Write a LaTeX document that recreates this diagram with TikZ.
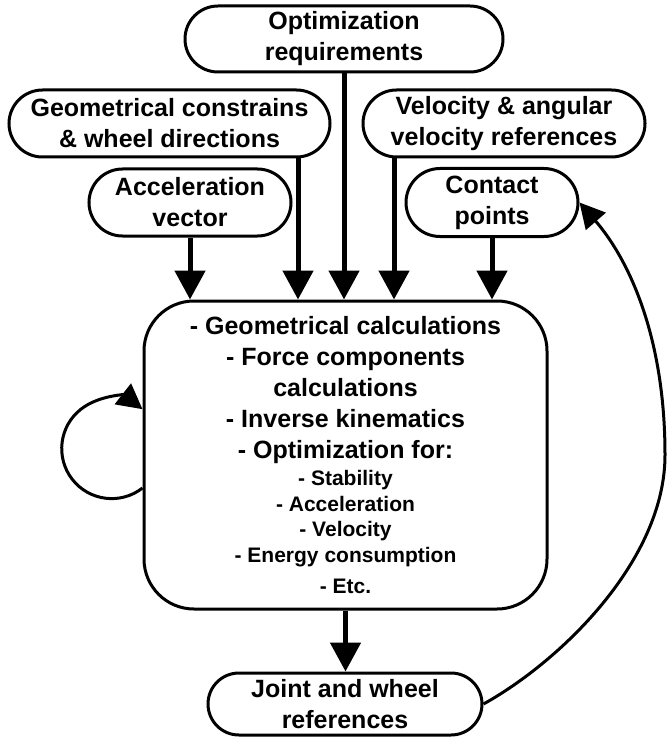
\documentclass[tikz,border=0pt]{standalone}
\usepackage{fontspec}
\setmainfont{Liberation Sans}
\usetikzlibrary{arrows.meta}
\newcommand\bigtxt{\fontsize{25}{31}\selectfont\bfseries}
\newcommand\smalltxt{\fontsize{21}{25.5}\selectfont\bfseries}
\newcommand\fixsp{\spaceskip=\fontdimen2\font\relax\xspaceskip=\fontdimen2\font\relax}
\begin{document}
\begin{tikzpicture}[x=1pt,y=1pt,
  pill/.style={draw, line width=3pt, inner sep=0pt, align=center, font=\bigtxt, rounded corners=#1},
  mainbox/.style={draw, line width=3pt, rounded corners=50pt, minimum width=403pt, minimum height=308pt, inner sep=0pt, text width=400pt, align=center, font=\bigtxt},
  feed/.style={line width=5pt, -{Triangle[length=29pt,width=30pt]}},
  thinarrow/.style={line width=3pt, -{Triangle[length=25pt,width=26pt]}}
]
\useasboundingbox (0,0) rectangle (667,-738);

\node[pill=33pt, minimum width=318pt, minimum height=66pt] (opt) at (344,-39) {Optimization\\requirements};
\node[pill=33.5pt, minimum width=321pt, minimum height=67pt] (geo) at (169.5,-123.5) {Geometrical constrains\\\& wheel directions};
\node[pill=33.5pt, minimum width=282pt, minimum height=67pt] (vel) at (504,-123.5) {Velocity \& angular\\velocity references};
\node[pill=33.5pt, minimum width=202pt, minimum height=67pt] (acc) at (190,-202.5) {Acceleration\\vector};
\node[pill=34pt, minimum width=172pt, minimum height=68pt] (con) at (492,-202.5) {Contact\\points};
\node[mainbox] (main) at (345.5,-455) {{\bigtxt\fixsp - Geometrical calculations\par - Force components\par calculations\par - Inverse kinematics\par - Optimization for:\par}\vspace{1.5pt}{\smalltxt\fixsp - Stability\par - Acceleration\par - Velocity\par - Energy consumption\par\vspace{5.5pt} - Etc.\par}};
\node[pill=31pt, minimum width=274pt, minimum height=62pt] (joint) at (345,-704) {Joint and wheel\\references};

\draw[feed] (acc.south) -- (acc.south |- main.north);
\draw[feed] (298,0 |- geo.south) -- (298,0 |- main.north);
\draw[feed] (opt.south) -- (opt.south |- main.north);
\draw[feed] (394,0 |- vel.south) -- (394,0 |- main.north);
\draw[feed] (con.south) -- (con.south |- main.north);
\draw[feed] (main.south) -- (main.south |- joint.north);

\draw[thinarrow] ([yshift=-33pt]main.west) arc[start angle=-52, end angle=-308, radius=50pt];

\coordinate (fbmid) at (665,-455);
\draw[thinarrow] (joint.east) .. controls (561,-661) and (665,-560) .. (fbmid) .. controls (665,-330) and (625,-255) .. (con.east);
\end{tikzpicture}
\end{document}
